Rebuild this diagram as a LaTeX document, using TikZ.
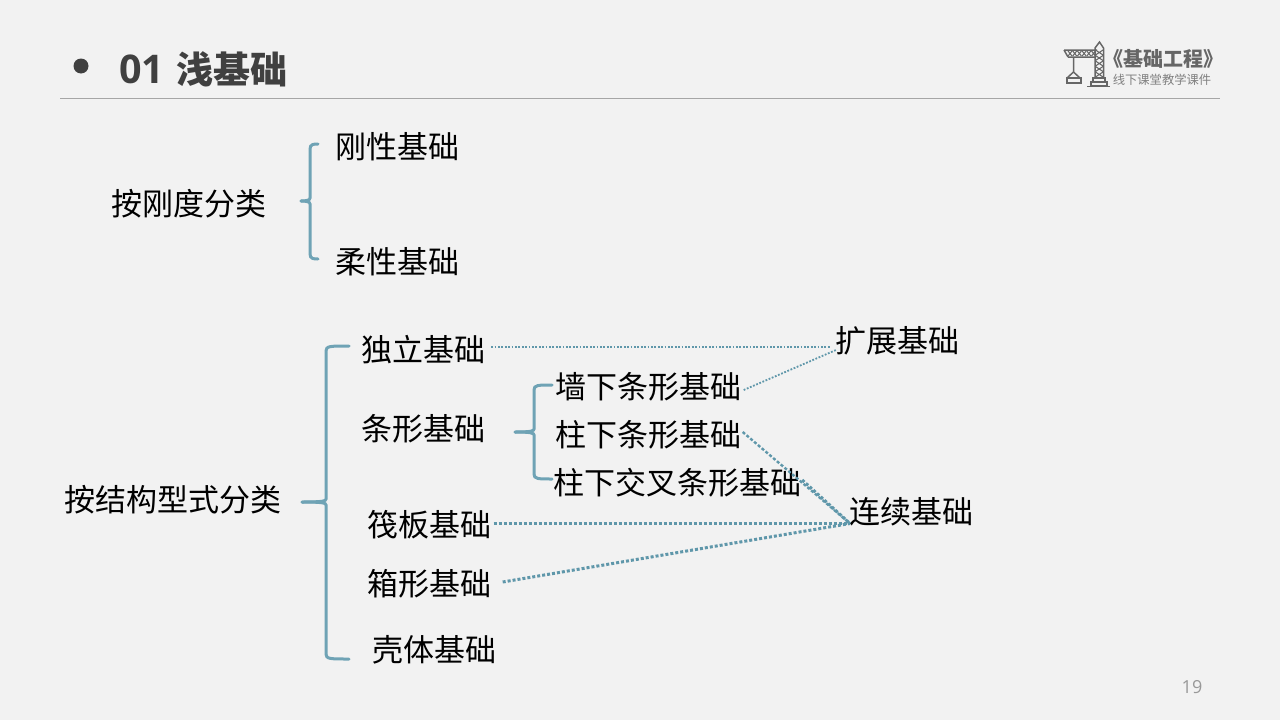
\documentclass[tikz,border=0pt]{standalone}
\usepackage{fontspec}
\setmainfont{Noto Sans CJK SC}
\newfontfamily\latinfont{Open Sans}

\definecolor{slidebg}{HTML}{F2F2F2}
\definecolor{bracecol}{HTML}{6FA3B5}
\definecolor{dotcol}{HTML}{5F97AA}
\definecolor{titlecol}{HTML}{404040}
\definecolor{logocol}{HTML}{666666}

\tikzset{%
    lbl/.style={inner sep=1pt,font=\fontsize{31}{31}\selectfont,text=black},
    brc/.style={bracecol,line width=3pt,line cap=round},
    thindot/.style={dotcol,line width=1.8pt,dash pattern=on 1.8pt off 1.6pt},
    fatdot/.style={dotcol,line width=3pt,dash pattern=on 3pt off 2pt},
    logo/.style={logocol,line width=1.5pt},
}

%\leftbrace{x}{top}{tip y}{bottom}{tip x}{end x}
\newcommand*{\leftbrace}[6]{%
	\draw [brc] (#6,#2) .. controls (#1+4,#2) and (#1,#2) .. (#1,#2+5)
		-- (#1,#3-3) .. controls (#1,#3-1) and (#1-3,#3) .. (#5,#3);
	\draw [brc] (#5,#3) .. controls (#1-3,#3) and (#1,#3+1) .. (#1,#3+3)
		-- (#1,#4-5) .. controls (#1,#4) and (#1+4,#4) .. (#6,#4);
}

\begin{document}
\begin{tikzpicture}[x=1pt,y=-1pt]

\fill [slidebg] (0,0) rectangle (1280,720);
\useasboundingbox (0,0) rectangle (1280,720);

% title
\fill [titlecol] (81,66) circle [radius=7.5];
\node (title) [anchor=west,inner sep=0pt,text=titlecol,font=\fontsize{37}{38}\selectfont\bfseries]
	at (119,69) {{\fontsize{39.5}{40}\selectfont\latinfont 01}\hspace{12pt}浅基础};
\draw [color=black!35,line width=1pt] (60,98.5) -- (1220,98.5);

% logo
\node (logotext) [inner sep=0pt,text=logocol,font=\fontsize{20}{20}\selectfont\bfseries] at (1163.5,59) {《基础工程》};
\node (logosub) [inner sep=0pt,text=black!50,font=\fontsize{12.3}{13}\selectfont] at (1162,80) {线下课堂教学课件};

% crane
\draw [logo] (1064,50) -- (1097,50) (1068,57) -- (1096,57) (1064,50) -- (1068,57);
\foreach \i in {0,...,5} {
	\draw [logo,line width=1pt] (1068+\i*4.7,51) -- ++(4,5) (1072+\i*4.7,51) -- ++(-4,5);
}
\draw [logo] (1095,78) -- (1095,48) -- (1099.5,42) -- (1103.5,48) -- (1103.5,78);
\foreach \i in {0,...,4} {
	\draw [logo,line width=1pt] (1095.5,50+\i*5.5) -- ++(7.5,5) (1103,50+\i*5.5) -- ++(-7.5,5);
}
\draw [logo] (1093,78) rectangle (1105,82) (1091,82) rectangle (1107,86);
\draw [logo] (1087,86.5) -- (1110,86.5);
\draw [logo] (1073.5,57) -- (1073.5,72) (1067,78) -- (1073.5,72) -- (1080,78);
\draw [logo] (1067,78) rectangle (1081,83);

% rigidity
\node (rigidity) [lbl] at (189,203.5) {按刚度分类};
\node (rigid) [lbl] at (397.5,147) {刚性基础};
\node (flexible) [lbl] at (397.5,262) {柔性基础};
\leftbrace{310}{144}{201}{259}{301}{318}

% structure
\node (structure) [lbl] at (173,500) {按结构型式分类};
\node (single) [lbl] at (423,350) {独立基础};
\node (strip) [lbl] at (423,429) {条形基础};
\node (raft) [lbl] at (429.5,525) {筏板基础};
\node (box) [lbl] at (429.5,584) {箱形基础};
\node (shell) [lbl] at (434,650) {壳体基础};
\leftbrace{326}{346}{502}{659}{302}{349}

\node (wallstrip) [lbl] at (648.5,387) {墙下条形基础};
\node (colstrip) [lbl] at (648.5,435) {柱下条形基础};
\node (crossstrip) [lbl] at (677,483) {柱下交叉条形基础};
\leftbrace{534}{385}{432}{479}{515}{552}

\node (spread) [lbl] at (897.5,341) {扩展基础};
\node (contin) [lbl] at (911.5,512) {连续基础};

% dotted links
\coordinate (Dspread) at (836,350);
\coordinate (Dsingle) at (830,347);
\coordinate (Dcontin) at (850,523.5);

\draw [thindot] ([yshift=3pt,xshift=5pt]single.east) -- (Dsingle);
\draw [thindot] ([yshift=-3pt,xshift=1pt]wallstrip.east) -- (Dspread);
\draw [fatdot,line width=2.4pt] ([yshift=3pt]colstrip.east) -- (Dcontin);
\draw [fatdot] ([yshift=3pt]crossstrip.east) -- (Dcontin);
\draw [fatdot] ([yshift=1.5pt,xshift=1pt]raft.east) -- (Dcontin);
\draw [fatdot] ([yshift=2pt,xshift=10pt]box.east) -- (Dcontin);

% page number
\node (pagenum) [inner sep=0pt,text=black!40,font=\fontsize{18}{18}\selectfont\latinfont] at (1192,687) {19};

\end{tikzpicture}
\end{document}
